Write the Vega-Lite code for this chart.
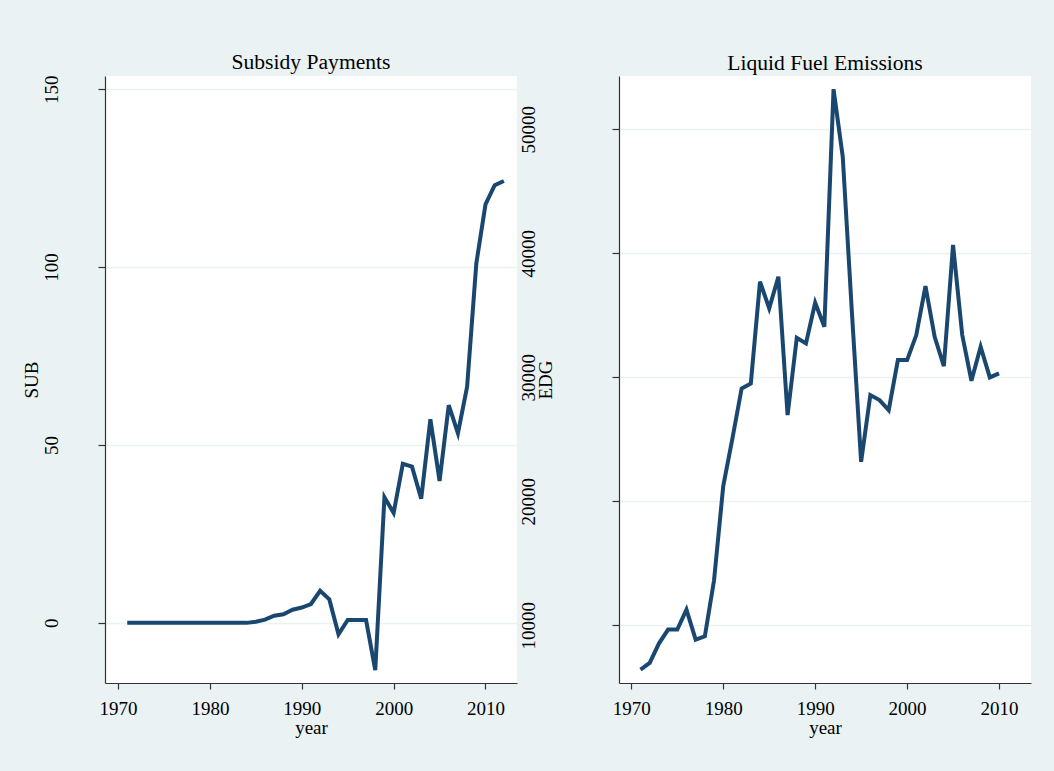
{
  "$schema": "https://vega.github.io/schema/vega-lite/v6.json",
  "background": "#EAF2F3",
  "padding": {"left": 22, "top": 52, "right": 29, "bottom": 37.5},
  "spacing": 2,
  "config": {
    "font": "Liberation Serif",
    "view": {"fill": "white", "stroke": null},
    "title": {"fontSize": 21.6, "fontWeight": "normal", "color": "black", "offset": 0, "dy": 3, "font": "Liberation Serif"},
    "axis": {
      "labelFont": "Liberation Serif",
      "titleFont": "Liberation Serif",
      "labelFontSize": 19,
      "titleFontSize": 19,
      "labelColor": "black",
      "titleColor": "black",
      "titleFontWeight": "normal",
      "domainColor": "#333333",
      "domainWidth": 1.2,
      "tickColor": "#333333",
      "tickWidth": 1.2
    },
    "axisX": {"grid": false, "tickSize": 6, "labelPadding": 10.5, "titlePadding": 0, "labelFlush": false, "labelOverlap": false},
    "axisY": {"grid": true, "gridColor": "#EAF2F3", "gridWidth": 1.5, "tickSize": 7, "labelAngle": 270, "labelAlign": "center", "labelBaseline": "bottom", "titleAngle": 270, "titleAlign": "center", "titleBaseline": "middle", "titleX": -74, "titleY": 303.5, "labelOverlap": false}
  },
  "hconcat": [
    {
      "title": "Subsidy Payments",
      "width": 412,
      "height": 607,
      "data": {"values": [
        {"year": 1971, "SUB": 0}, {"year": 1972, "SUB": 0}, {"year": 1973, "SUB": 0}, {"year": 1974, "SUB": 0},
        {"year": 1975, "SUB": 0}, {"year": 1976, "SUB": 0}, {"year": 1977, "SUB": 0}, {"year": 1978, "SUB": 0},
        {"year": 1979, "SUB": 0}, {"year": 1980, "SUB": 0}, {"year": 1981, "SUB": 0}, {"year": 1982, "SUB": 0},
        {"year": 1983, "SUB": 0}, {"year": 1984, "SUB": 0}, {"year": 1985, "SUB": 0.3}, {"year": 1986, "SUB": 0.9},
        {"year": 1987, "SUB": 2.0}, {"year": 1988, "SUB": 2.4}, {"year": 1989, "SUB": 3.7}, {"year": 1990, "SUB": 4.3},
        {"year": 1991, "SUB": 5.3}, {"year": 1992, "SUB": 9.0}, {"year": 1993, "SUB": 6.6}, {"year": 1994, "SUB": -3.2},
        {"year": 1995, "SUB": 0.8}, {"year": 1996, "SUB": 0.8}, {"year": 1997, "SUB": 0.8}, {"year": 1998, "SUB": -13.3},
        {"year": 1999, "SUB": 35.3}, {"year": 2000, "SUB": 30.9}, {"year": 2001, "SUB": 44.7}, {"year": 2002, "SUB": 43.9},
        {"year": 2003, "SUB": 34.9}, {"year": 2004, "SUB": 57.2}, {"year": 2005, "SUB": 39.9}, {"year": 2006, "SUB": 61.2},
        {"year": 2007, "SUB": 53.3}, {"year": 2008, "SUB": 66.4}, {"year": 2009, "SUB": 101}, {"year": 2010, "SUB": 117.6},
        {"year": 2011, "SUB": 123}, {"year": 2012, "SUB": 124.2}
      ]},
      "mark": {"type": "line", "color": "#1A476F", "strokeWidth": 4},
      "encoding": {
        "x": {"field": "year", "type": "quantitative", "scale": {"domain": [1968.58, 2013.43], "nice": false, "zero": false},
              "axis": {"values": [1970, 1980, 1990, 2000, 2010], "format": "d", "title": "year"}},
        "y": {"field": "SUB", "type": "quantitative", "scale": {"domain": [-16.9, 153.7], "nice": false, "zero": false},
              "axis": {"values": [0, 50, 100, 150], "format": "d", "title": "SUB", "labelPadding": 37}}
      }
    },
    {
      "title": "Liquid Fuel Emissions",
      "width": 412,
      "height": 607,
      "data": {"values": [
        {"year": 1971, "EDG": 6425}, {"year": 1972, "EDG": 6960}, {"year": 1973, "EDG": 8523}, {"year": 1974, "EDG": 9650},
        {"year": 1975, "EDG": 9650}, {"year": 1976, "EDG": 11267}, {"year": 1977, "EDG": 8846}, {"year": 1978, "EDG": 9112},
        {"year": 1979, "EDG": 13632}, {"year": 1980, "EDG": 21219}, {"year": 1981, "EDG": 25070}, {"year": 1982, "EDG": 29100},
        {"year": 1983, "EDG": 29508}, {"year": 1984, "EDG": 37709}, {"year": 1985, "EDG": 35560}, {"year": 1986, "EDG": 38113},
        {"year": 1987, "EDG": 26949}, {"year": 1988, "EDG": 33190}, {"year": 1989, "EDG": 32735}, {"year": 1990, "EDG": 36013},
        {"year": 1991, "EDG": 34076}, {"year": 1992, "EDG": 53236}, {"year": 1993, "EDG": 47797}, {"year": 1994, "EDG": 35200},
        {"year": 1995, "EDG": 23180}, {"year": 1996, "EDG": 28563}, {"year": 1997, "EDG": 28160}, {"year": 1998, "EDG": 27353},
        {"year": 1999, "EDG": 31388}, {"year": 2000, "EDG": 31388}, {"year": 2001, "EDG": 33405}, {"year": 2002, "EDG": 37360},
        {"year": 2003, "EDG": 33270}, {"year": 2004, "EDG": 30904}, {"year": 2005, "EDG": 40670}, {"year": 2006, "EDG": 33405},
        {"year": 2007, "EDG": 29720}, {"year": 2008, "EDG": 32465}, {"year": 2009, "EDG": 29990}, {"year": 2010, "EDG": 30315}
      ]},
      "mark": {"type": "line", "color": "#1A476F", "strokeWidth": 4},
      "encoding": {
        "x": {"field": "year", "type": "quantitative", "scale": {"domain": [1968.66, 2013.48], "nice": false, "zero": false},
              "axis": {"values": [1970, 1980, 1990, 2000, 2010], "format": "d", "title": "year"}},
        "y": {"field": "EDG", "type": "quantitative", "scale": {"domain": [5343, 54300], "nice": false, "zero": false},
              "axis": {"values": [10000, 20000, 30000, 40000, 50000], "format": "d", "title": "EDG", "labelPadding": 73.5}}
      }
    }
  ]
}
